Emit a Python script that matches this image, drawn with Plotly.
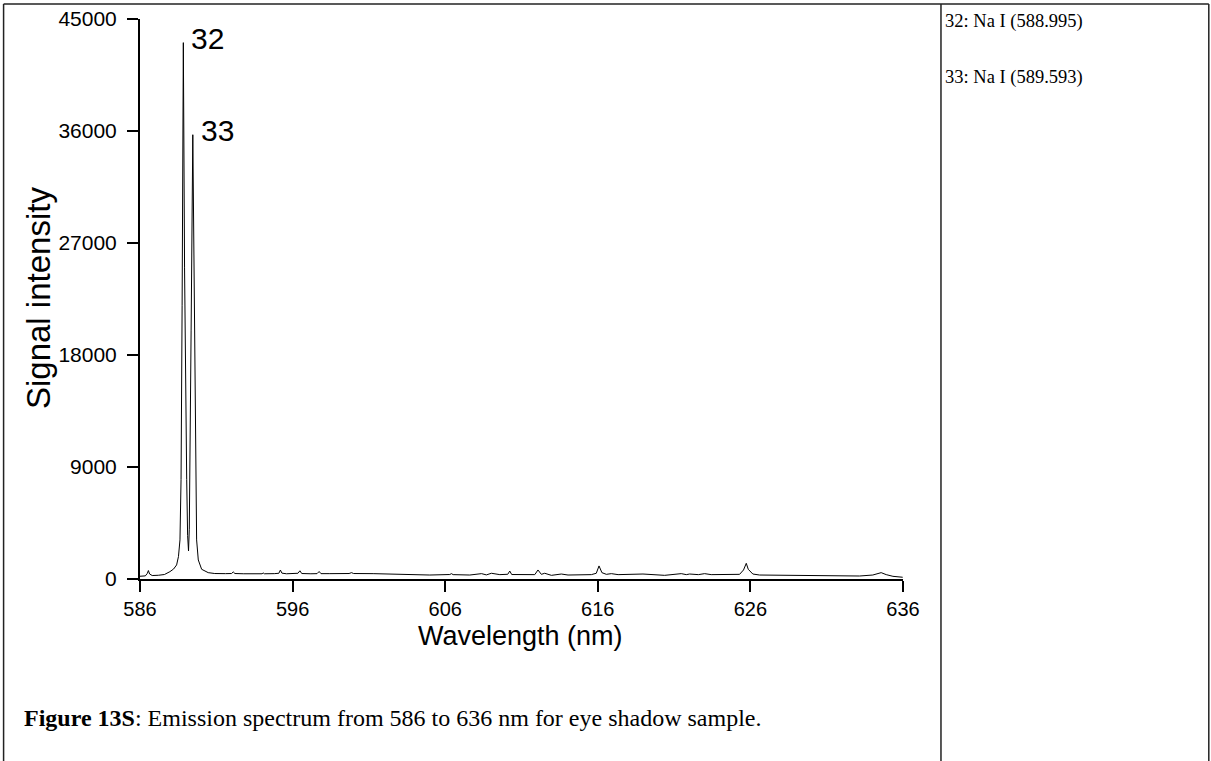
import plotly.graph_objects as go

# Emission spectrum, 586-636 nm (wavelength in nm, signal in counts)
wavelength = [
    586.00, 586.35, 586.48, 586.55, 586.63, 586.80, 587.20, 587.60, 587.96, 588.20,
    588.40, 588.52, 588.62, 588.69, 588.76, 588.84, 588.92, 588.98, 589.06, 589.12,
    589.18, 589.23, 589.27, 589.35, 589.46, 589.55, 589.65, 589.71, 589.82, 590.04,
    590.47, 590.90, 591.60, 592.00, 592.11, 592.22, 592.80, 593.50, 594.00, 594.07,
    594.15, 594.80, 595.10, 595.20, 595.30, 595.60, 596.20, 596.35, 596.48, 596.60,
    597.20, 597.60, 597.74, 597.86, 598.44, 599.70, 599.86, 600.00, 601.28, 602.81,
    604.99, 606.30, 606.41, 606.52, 607.61, 608.38, 608.70, 609.03, 609.58, 610.10,
    610.23, 610.36, 611.54, 611.87, 612.08, 612.30, 612.52, 612.96, 613.61, 614.05,
    615.58, 615.90, 616.08, 616.27, 616.56, 616.89, 617.33, 618.96, 620.38, 621.47,
    621.80, 622.02, 622.59, 623.00, 623.43, 624.30, 625.29, 625.55, 625.73, 625.86,
    625.99, 626.16, 626.60, 628.35, 630.53, 633.15, 634.02, 634.57, 634.90, 635.34,
    635.98,
]
intensity = [
    220, 250, 450, 680, 400, 280, 300, 360, 590, 800,
    1130, 1800, 3140, 8000, 22000, 43100, 25000, 16000, 8000, 3500,
    2250, 4000, 8000, 20000, 35700, 22000, 8000, 3140, 1530, 780,
    510, 440, 430, 440, 570, 440, 420, 410, 420, 490,
    420, 430, 460, 720, 470, 420, 420, 460, 660, 440,
    420, 430, 600, 430, 430, 440, 510, 440, 430, 375,
    320, 360, 430, 350, 320, 430, 330, 460, 350, 380,
    640, 360, 375, 350, 725, 375, 460, 295, 400, 320,
    350, 460, 1050, 510, 375, 430, 350, 400, 295, 430,
    350, 400, 350, 430, 350, 350, 375, 725, 1260, 780,
    640, 400, 320, 295, 270, 240, 320, 510, 350, 215,
    140,
]

# Labelled lines: tag, peak position, peak height
peak_tags = ["32", "33"]
peak_wl = [588.84, 589.46]
peak_height = [43100, 35700]

# Line identifications listed beside the plot
line_ids = ["32: Na I (588.995)", "33: Na I (589.593)"]

x_ticks = [586, 596, 606, 616, 626, 636]
y_ticks = [0, 9000, 18000, 27000, 36000, 45000]

# Page geometry (pixels)
W, H = 1211, 761
L, R, T, B = 140, 903.5, 19, 579


def fx(px):
    return (px - L) / (R - L)


def fy(py):
    return (B - py) / (B - T)


SANS = "Liberation Sans, Arial, sans-serif"
SERIF = "Liberation Serif, Times New Roman, serif"

fig = go.Figure()
fig.add_trace(go.Scatter(
    x=wavelength, y=intensity, mode="lines",
    line=dict(color="black", width=1), hoverinfo="skip", showlegend=False,
))

for tag, wl, h in zip(peak_tags, peak_wl, peak_height):
    fig.add_annotation(
        x=wl, y=h, xref="x", yref="y", text=tag, showarrow=False,
        xanchor="left", yanchor="middle", xshift=6, yshift=4,
        font=dict(family=SANS, size=30, color="black"),
    )

for i, txt in enumerate(line_ids):
    fig.add_annotation(
        x=fx(944), y=fy(22 + 56 * i), xref="paper", yref="paper", text=txt,
        showarrow=False, xanchor="left", yanchor="middle",
        font=dict(family=SERIF, size=18.5, color="black"),
    )

fig.add_annotation(
    x=fx(22), y=fy(718), xref="paper", yref="paper",
    text="<b>Figure 13S</b>: Emission spectrum from 586 to 636 nm for eye shadow sample.",
    showarrow=False, xanchor="left", yanchor="middle",
    font=dict(family=SERIF, size=24, color="black"),
)

# Axis titles
fig.add_annotation(
    x=fx(521), y=fy(636), xref="paper", yref="paper", text="Wavelength (nm)",
    showarrow=False, xanchor="center", yanchor="middle",
    font=dict(family=SANS, size=27, color="black"),
)
fig.add_annotation(
    x=fx(38), y=fy(298), xref="paper", yref="paper", text="Signal intensity",
    showarrow=False, xanchor="center", yanchor="middle", textangle=-90,
    font=dict(family=SANS, size=33, color="black"),
)

# Table-style frame around the figure and the side notes
frame = dict(type="line", xref="paper", yref="paper",
             line=dict(color="#222222", width=1.5), layer="above")
fig.add_shape(x0=fx(3.5), x1=fx(1209.5), y0=fy(4), y1=fy(4), **frame)
fig.add_shape(x0=fx(3.5), x1=fx(3.5), y0=fy(4), y1=fy(H + 2), **frame)
fig.add_shape(x0=fx(941.5), x1=fx(941.5), y0=fy(4), y1=fy(H + 2), **frame)
fig.add_shape(x0=fx(1209.5), x1=fx(1209.5), y0=fy(4), y1=fy(H + 2), **frame)

fig.update_xaxes(
    range=[586, 636], tickvals=x_ticks, ticktext=[str(v) for v in x_ticks],
    showline=True, linecolor="black", linewidth=2, mirror=False,
    ticks="outside", ticklen=11, tickwidth=2, tickcolor="black",
    showgrid=False, zeroline=False,
    tickfont=dict(family=SANS, size=20, color="black"),
)
fig.update_yaxes(
    range=[0, 45000], tickvals=y_ticks, ticktext=[str(v) for v in y_ticks],
    showline=True, linecolor="black", linewidth=2, mirror=False,
    ticks="outside", ticklen=11, tickwidth=2, tickcolor="black",
    showgrid=False, zeroline=False, ticklabelstandoff=6,
    tickfont=dict(family=SANS, size=21, color="black"),
)

fig.update_layout(
    width=W, height=H,
    margin=dict(l=L, r=W - R, t=T, b=H - B, autoexpand=False),
    paper_bgcolor="white", plot_bgcolor="white",
)

fig.write_html("out.html")
